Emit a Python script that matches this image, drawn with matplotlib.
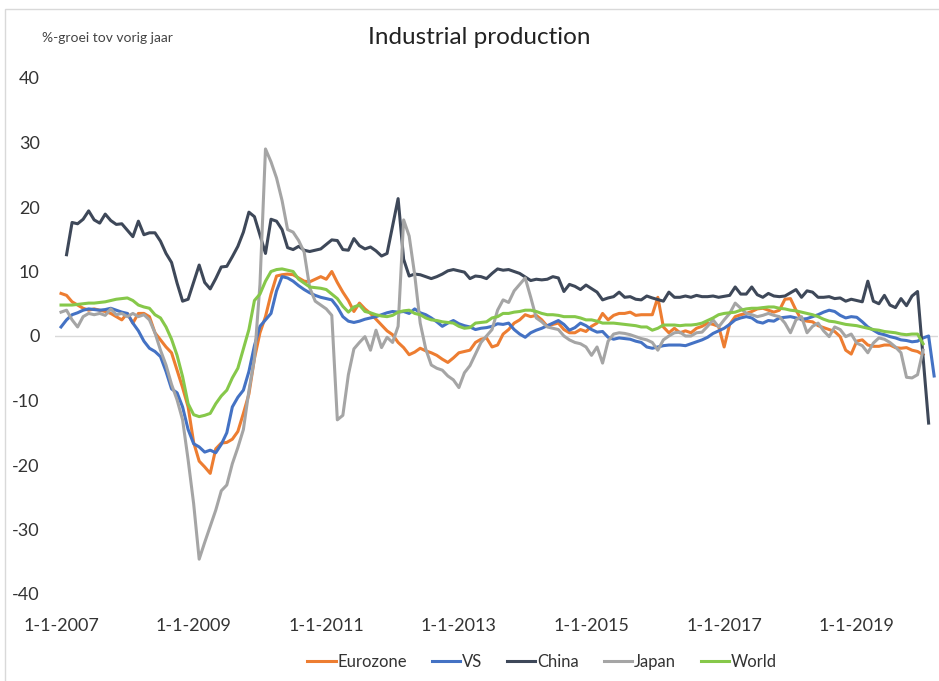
import numpy as np
import matplotlib
matplotlib.use('Agg')
import matplotlib.pyplot as plt
from matplotlib.patches import Rectangle

plt.rcParams['font.family'] = ['Lato', 'DejaVu Sans']
plt.rcParams['axes.unicode_minus'] = False

nan = np.nan

# monthly y/y growth, Jan 2007 .. Mar 2020 (159 months)
eurozone = [
    6.6, 6.3, 5.3, 4.8, 4.3, 4.0, 4.2, 4.0, 3.8, 3.5, 3.0, 2.5,
    3.5, 2.0, 3.5, 3.5, 3.0, 0.5, -0.6, -1.7, -2.6, -5.3, -8.0, -11.0,
    -16.5, -19.4, -20.3, -21.3, -17.5, -16.6, -16.5, -16.0, -14.8, -12.0, -9.0, -3.5,
    0.5, 3.0, 6.5, 9.3, 9.5, 9.6, 9.5, 9.0, 8.5, 8.4, 8.8, 9.2,
    8.8, 10.0, 8.3, 6.8, 5.5, 3.8, 5.1, 4.2, 3.5, 2.6, 1.7, 0.8,
    0.2, -1.0, -1.8, -2.9, -2.5, -1.9, -2.3, -2.6, -3.0, -3.6, -4.1, -3.4,
    -2.6, -2.4, -2.2, -1.0, -0.5, -0.3, -1.7, -1.4, 0.3, 1.0, 2.0, 2.5,
    3.3, 3.0, 3.2, 2.5, 1.5, 1.8, 2.0, 1.0, 0.5, 0.5, 1.0, 0.7,
    1.5, 2.0, 3.5, 2.5, 3.2, 3.5, 3.5, 3.7, 3.2, 3.3, 3.3, 3.3,
    6.0, 1.4, 0.5, 1.2, 0.5, 0.8, 0.5, 1.2, 1.5, 2.0, 1.8, 1.5,
    -1.7, 1.8, 3.0, 3.3, 3.5, 3.8, 4.2, 4.3, 4.0, 3.7, 4.0, 5.7,
    5.8, 4.0, 2.5, 2.3, 2.2, 1.6, 1.3, 1.0, 0.7, -0.1, -2.2, -2.8,
    -0.8, -0.6, -1.4, -1.6, -1.6, -1.4, -1.4, -1.8, -1.9, -1.8, -2.2, -2.4,
    -2.9, nan, nan,
]

vs = [
    1.4, 2.5, 3.3, 3.6, 4.0, 4.2, 4.1, 4.0, 4.1, 4.3, 4.0, 3.7,
    3.5, 2.0, 0.8, -0.8, -1.9, -2.4, -3.2, -5.5, -8.2, -8.8, -11.0, -14.5,
    -16.7, -17.2, -18.0, -17.7, -18.1, -16.8, -15.0, -11.0, -9.5, -8.4, -5.5, -1.5,
    1.5, 2.5, 3.5, 7.0, 9.2, 9.0, 8.5, 7.8, 7.2, 6.7, 6.3, 6.0,
    5.8, 5.6, 4.5, 3.0, 2.3, 2.1, 2.3, 2.6, 2.8, 3.0, 3.3, 3.6,
    3.8, 3.7, 3.8, 3.5, 4.2, 3.6, 3.3, 2.8, 2.2, 1.5, 2.0, 2.4,
    1.9, 1.6, 1.4, 1.0, 1.2, 1.3, 1.5, 1.9, 1.8, 2.0, 1.0, 0.3,
    -0.2, 0.5, 0.9, 1.2, 1.6, 2.0, 2.4, 1.8, 0.9, 1.3, 2.0, 1.6,
    1.0, 0.6, 0.7, -0.2, -0.5, -0.3, -0.4, -0.5, -0.8, -1.0, -1.7, -1.9,
    -1.7, -1.5, -1.4, -1.4, -1.4, -1.5, -1.2, -0.9, -0.6, -0.2, 0.4, 0.8,
    1.2, 1.8, 2.5, 2.8, 3.0, 2.8, 2.2, 2.0, 2.4, 2.3, 2.8, 2.9,
    3.0, 2.8, 2.6, 2.7, 3.0, 3.3, 3.7, 4.0, 3.8, 3.2, 2.8, 3.0,
    2.9, 2.2, 1.4, 0.9, 0.4, 0.2, -0.1, -0.3, -0.6, -0.7, -0.9, -0.8,
    -0.3, 0.0, -6.2,
]

china = [
    nan, 12.6, 17.6, 17.4, 18.1, 19.4, 18.0, 17.5, 18.9, 17.9, 17.3, 17.4,
    nan, 15.4, 17.8, 15.7, 16.0, 16.0, 14.7, 12.8, 11.4, 8.2, 5.4, 5.7,
    nan, 11.0, 8.3, 7.3, 8.9, 10.7, 10.8, 12.3, 13.9, 16.1, 19.2, 18.5,
    nan, 12.8, 18.1, 17.8, 16.5, 13.7, 13.4, 13.9, 13.3, 13.1, 13.3, 13.5,
    nan, 14.9, 14.8, 13.4, 13.3, 15.1, 14.0, 13.5, 13.8, 13.2, 12.4, 12.8,
    nan, 21.3, 11.9, 9.3, 9.6, 9.5, 9.2, 8.9, 9.2, 9.6, 10.1, 10.3,
    nan, 9.9, 8.9, 9.3, 9.2, 8.9, 9.7, 10.4, 10.2, 10.3, 10.0, 9.7,
    nan, 8.6, 8.8, 8.7, 8.8, 9.2, 9.0, 6.9, 8.0, 7.7, 7.2, 7.9,
    nan, 6.8, 5.6, 5.9, 6.1, 6.8, 6.0, 6.1, 5.7, 5.6, 6.2, 5.9,
    nan, 5.4, 6.8, 6.0, 6.0, 6.2, 6.0, 6.3, 6.1, 6.1, 6.2, 6.0,
    nan, 6.3, 7.6, 6.5, 6.5, 7.6, 6.4, 6.0, 6.6, 6.2, 6.1, 6.2,
    nan, 7.2, 6.0, 7.0, 6.8, 6.0, 6.0, 6.1, 5.8, 5.9, 5.4, 5.7,
    nan, 5.3, 8.5, 5.4, 5.0, 6.3, 4.8, 4.4, 5.8, 4.7, 6.2, 6.9,
    nan, -13.5, nan,
]

japan = [
    3.7, 4.0, 2.5, 1.4, 3.0, 3.5, 3.3, 3.5, 3.2, 4.2, 3.3, 3.5,
    3.0, 3.5, 3.0, 3.3, 2.5, 0.5, -2.2, -4.5, -7.5, -9.9, -13.0, -19.2,
    -26.0, -34.6, -32.0, -29.5, -27.0, -24.0, -23.1, -19.8, -17.3, -14.5, -8.5, -3.5,
    8.0, 29.0, 27.0, 24.5, 21.0, 16.5, 16.1, 14.8, 13.0, 7.5, 5.4, 4.8,
    4.2, 3.2, -13.0, -12.3, -6.0, -2.0, -1.0, -0.1, -2.2, 0.9, -1.8, -0.2,
    -1.0, 1.5, 18.0, 15.5, 9.5, 2.0, -2.0, -4.5, -5.0, -5.3, -6.2, -6.8,
    -8.0, -5.7, -4.6, -2.8, -1.0, 0.0, 1.0, 4.0, 5.6, 5.2, 7.0, 8.0,
    9.0, 6.0, 2.8, 2.2, 1.4, 1.2, 1.0, 0.0, -0.6, -1.0, -1.2, -1.7,
    -3.0, -1.7, -4.2, -0.8, 0.3, 0.5, 0.4, 0.2, -0.1, -0.4, -0.6, -1.0,
    -2.2, -0.6, 0.0, 0.5, 0.6, 0.0, 0.0, 0.5, 0.6, 1.5, 2.5, 1.4,
    2.5, 3.5, 5.1, 4.3, 3.5, 3.3, 3.0, 3.2, 3.5, 3.2, 3.0, 2.0,
    0.5, 2.5, 3.0, 0.5, 1.5, 2.0, 0.8, -0.1, 1.4, 1.0, -0.1, 0.3,
    -1.1, -1.5, -2.6, -1.1, -0.3, -0.5, -1.0, -1.7, -2.6, -6.4, -6.5, -6.0,
    -2.2, nan, nan,
]

world = [
    4.8, 4.8, 4.8, 4.9, 5.0, 5.1, 5.1, 5.2, 5.3, 5.5, 5.7, 5.8,
    5.9, 5.5, 4.8, 4.5, 4.3, 3.3, 2.8, 1.4, -0.5, -3.0, -6.3, -10.5,
    -12.2, -12.5, -12.3, -12.0, -10.5, -9.3, -8.4, -6.5, -5.0, -2.0, 1.0, 5.5,
    6.5, 8.5, 10.0, 10.3, 10.4, 10.2, 10.0, 8.8, 8.2, 7.6, 7.5, 7.4,
    7.2, 6.5, 5.8, 4.6, 3.7, 4.5, 4.8, 3.8, 3.6, 3.3, 3.1, 3.0,
    3.2, 3.7, 3.9, 4.0, 3.5, 3.3, 2.8, 2.5, 2.4, 2.2, 2.1, 2.0,
    1.5, 1.2, 1.3, 2.0, 2.1, 2.2, 2.8, 3.0, 3.5, 3.5, 3.7, 3.8,
    4.0, 4.0, 3.8, 3.5, 3.3, 3.3, 3.2, 3.0, 3.0, 3.0, 2.8, 2.5,
    2.5, 2.3, 2.0, 2.0, 2.0, 1.9, 1.8, 1.7, 1.6, 1.4, 1.4, 0.9,
    1.2, 1.7, 1.7, 1.7, 1.6, 1.7, 1.7, 1.8, 2.0, 2.4, 2.8, 3.3,
    3.5, 3.6, 3.7, 4.0, 4.2, 4.3, 4.3, 4.4, 4.5, 4.5, 4.3, 4.2,
    4.0, 3.9, 3.7, 3.5, 3.3, 3.0, 2.6, 2.3, 2.2, 2.0, 1.8, 1.7,
    1.6, 1.4, 1.2, 1.0, 0.9, 0.7, 0.6, 0.5, 0.3, 0.2, 0.3, 0.3,
    -1.2, nan, nan,
]

tick_labels = ['1-1-2007', '1-1-2009', '1-1-2011', '1-1-2013',
               '1-1-2015', '1-1-2017', '1-1-2019']

series = [
    ('Eurozone', eurozone, '#ED7D31'),
    ('VS', vs, '#4472C4'),
    ('China', china, '#3E4859'),
    ('Japan', japan, '#A5A5A5'),
    ('World', world, '#86C84A'),
]

fig = plt.figure(figsize=(9.39, 6.81), dpi=100)
ax = fig.add_axes([55 / 939, 1 - 594 / 681, 883 / 939, 516 / 681])

months = np.arange(len(vs))
for name, vals, col in series:
    v = np.array(vals, dtype=float)
    ok = ~np.isnan(v)
    ax.plot(months[ok], v[ok], color=col, lw=2.2, label=name,
            solid_joinstyle='round')

ax.axhline(0, color='#D9D9D9', lw=1, zorder=0)
ax.set_xlim(-1.09, 158.7)
ax.set_ylim(-40, 40)
ax.set_yticks(range(-40, 41, 10))
ax.set_xticks(np.arange(len(tick_labels)) * 24)
ax.set_xticklabels(tick_labels)
ax.tick_params(length=0, labelsize=13, colors='#333333')
ax.tick_params(axis='x', pad=17)
ax.tick_params(axis='y', pad=11)
for s in ax.spines.values():
    s.set_visible(False)

fig.text(479 / 939, 1 - 38 / 681, 'Industrial production', ha='center',
         va='center', fontsize=17.5, color='#222222')
fig.text(42 / 939, 1 - 38 / 681, '%-groei tov vorig jaar', ha='left',
         va='center', fontsize=10, color='#444444')

fig.legend(loc='center', bbox_to_anchor=(542 / 939, 1 - 662 / 681), ncol=5,
           frameon=False, handlelength=1.7, handletextpad=0.1,
           columnspacing=1.5, fontsize=12, labelcolor='#333333')

fig.patches.append(Rectangle((5 / 939, -0.05), 1.0, 1.05 - 9 / 681,
                             transform=fig.transFigure, fill=False,
                             edgecolor='#D9D9D9', lw=1))

fig.savefig('out.png', dpi=100)
